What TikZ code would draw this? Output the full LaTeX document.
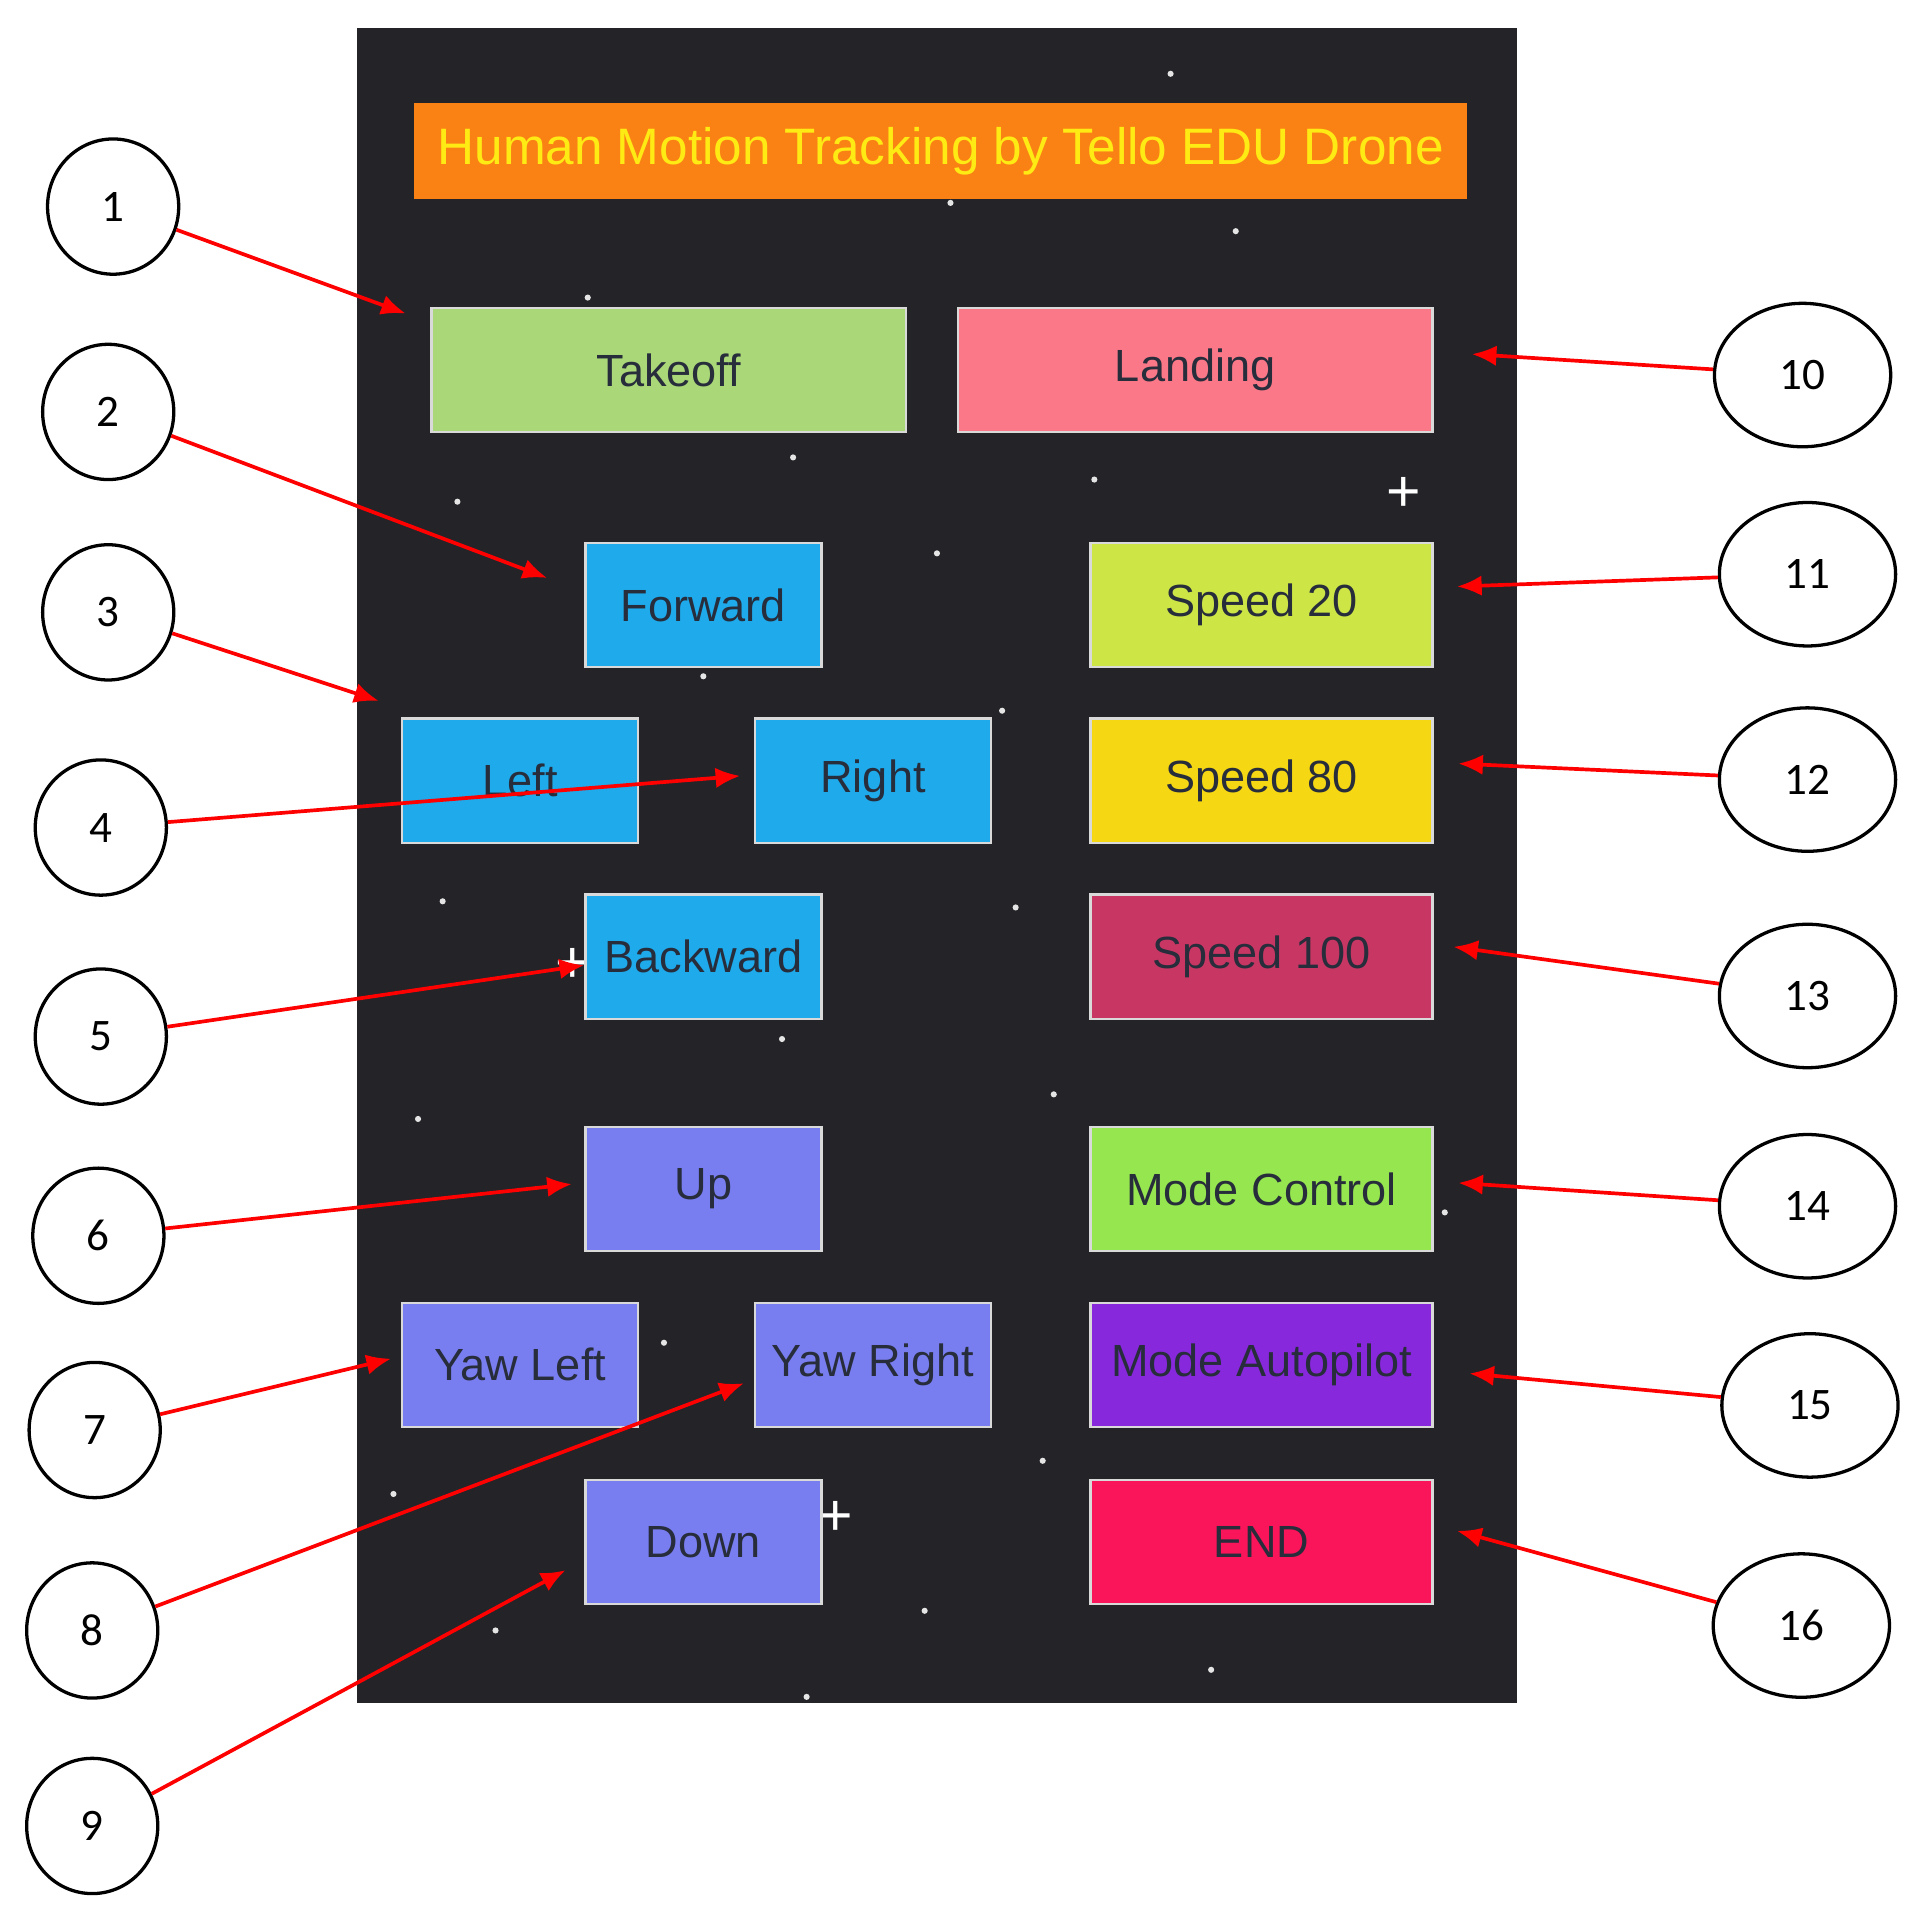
\documentclass[tikz,border=0pt]{standalone}
\usepackage{fontspec}
\setmainfont{Liberation Sans}
\newfontfamily\numfont{Carlito}
\usetikzlibrary{arrows.meta,shapes.geometric}
\definecolor{panelbg}{RGB}{35,35,40}
\definecolor{titlebg}{RGB}{250,130,20}
\definecolor{titlefg}{RGB}{255,235,20}
\definecolor{cTakeoff}{RGB}{170,215,120}
\definecolor{cLanding}{RGB}{250,120,135}
\definecolor{cMove}{RGB}{30,170,235}
\definecolor{cVert}{RGB}{120,125,240}
\definecolor{cSpdA}{RGB}{205,230,70}
\definecolor{cSpdB}{RGB}{245,215,20}
\definecolor{cSpdC}{RGB}{200,55,100}
\definecolor{cModeC}{RGB}{150,230,80}
\definecolor{cModeA}{RGB}{135,40,220}
\definecolor{cEnd}{RGB}{250,20,90}
\definecolor{btntext}{RGB}{40,45,60}
\tikzset{every picture/.style={line width=0.75pt}}
\tikzset{
  btn/.style={draw=white!70!gray, line width=0.6pt, inner sep=0pt, font=\fontsize{11}{13}\selectfont, text=btntext},
  small btn/.style={btn, minimum width=57.6pt, minimum height=30.3pt},
  wide btn/.style={btn, minimum width=83.4pt, minimum height=30.3pt},
  big btn/.style={btn, minimum width=115.8pt, minimum height=30.3pt},
  callout/.style={draw, ellipse, line width=0.8pt, inner sep=0pt, font=\numfont\fontsize{11}{13}\selectfont},
  left callout/.style={callout, minimum width=32pt, minimum height=33pt},
  right callout/.style={callout, minimum width=43pt, minimum height=35pt},
  pointer/.style={red, line width=0.9pt, -{Latex[length=6pt,width=5pt]}},
}
\begin{document}
\begin{tikzpicture}[x=0.3pt,y=0.3pt,yscale=-1]
  \useasboundingbox (0,0) rectangle (1560,1568);
  % panel
  \fill[panelbg] (290,23) rectangle (1234,1385);
  \foreach \sx/\sy in {478/242,645/372,372/408,890/390,762/450,572/550,815/578,360/733,826/738,636/845,857/890,340/910,540/1092,848/1188,320/1215,752/1310,403/1326,985/1358,656/1380,952/60,1005/188,773/165,1175/986}
    \fill[white!80!gray] (\sx,\sy) circle (2.5);
  \node[font=\Large, text=white] at (1142,402) {+};
  \node[font=\Large, text=white] at (680,1235) {+};
  \node[font=\Large, text=white] at (466,785) {+};
  % title
  \node[fill=titlebg, minimum width=256.8pt, minimum height=23.4pt, inner sep=0pt,
        text=titlefg, font=\fontsize{12.5}{14}\selectfont] (title) at (765,123) {Human Motion Tracking by Tello EDU Drone};
  % buttons
  \node[big btn, fill=cTakeoff] (takeoff) at (544,301) {Takeoff};
  \node[big btn, fill=cLanding] (landing) at (972,301) {Landing};
  \node[small btn, fill=cMove] (forward) at (572,492) {Forward};
  \node[wide btn, fill=cSpdA] (speedA) at (1026,492) {Speed 20};
  \node[small btn, fill=cMove] (left) at (423,635) {Left};
  \node[small btn, fill=cMove] (right) at (710,635) {Right};
  \node[wide btn, fill=cSpdB] (speedB) at (1026,635) {Speed 80};
  \node[small btn, fill=cMove] (backward) at (572,778) {Backward};
  \node[wide btn, fill=cSpdC] (speedC) at (1026,778) {Speed 100};
  \node[small btn, fill=cVert] (up) at (572,967) {Up};
  \node[wide btn, fill=cModeC] (modec) at (1026,967) {Mode Control};
  \node[small btn, fill=cVert] (yawl) at (423,1110) {Yaw Left};
  \node[small btn, fill=cVert] (yawr) at (710,1110) {Yaw Right};
  \node[wide btn, fill=cModeA] (modea) at (1026,1110) {Mode Autopilot};
  \node[small btn, fill=cVert] (down) at (572,1254) {Down};
  \node[wide btn, fill=cEnd] (endb) at (1026,1254) {END};
  % callouts and pointers
  \foreach \n/\cx/\cy/\tx/\ty in {1/92/168/330/255, 2/88/335/445/470, 3/88/498/308/570,
      4/82/673/602/631, 5/82/843/475/785, 6/80/1005/465/963, 7/77/1163/318/1105,
      8/75/1326/605/1125, 9/75/1485/460/1277}{
    \node[left callout] (c\n) at (\cx,\cy) {\n};
    \coordinate (t\n) at (\tx,\ty);
    \draw[pointer] (c\n) -- (t\n);
  }
  \foreach \n/\cx/\cy/\tx/\ty in {10/1466/305/1197/288, 11/1470/467/1185/477, 12/1470/634/1186/621,
      13/1470/810/1182/770, 14/1470/981/1186/962, 15/1472/1143/1195/1117, 16/1465/1322/1185/1245}{
    \node[right callout] (c\n) at (\cx,\cy) {\n};
    \coordinate (t\n) at (\tx,\ty);
    \draw[pointer] (c\n) -- (t\n);
  }
\end{tikzpicture}
\end{document}
